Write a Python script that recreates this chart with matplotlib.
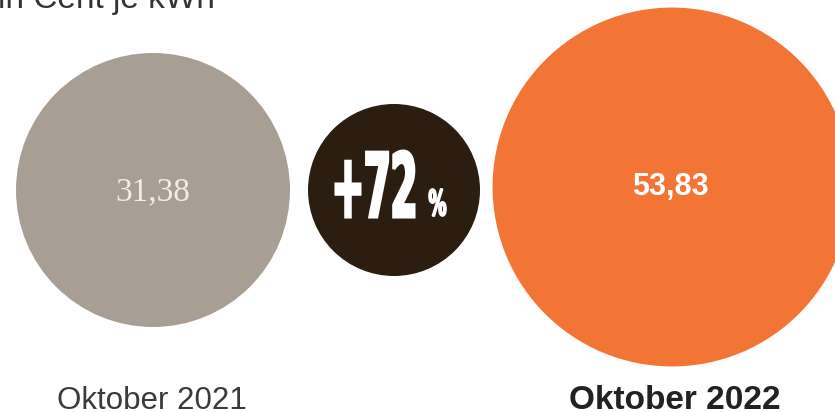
import numpy as np
import matplotlib
matplotlib.use("Agg")
import matplotlib.pyplot as plt
from matplotlib.patches import Circle, PathPatch
from matplotlib.textpath import TextPath
from matplotlib.font_manager import FontProperties
from matplotlib.transforms import Affine2D

# data
months = ["Oktober 2021", "Oktober 2022"]
prices = [31.38, 53.83]
value_labels = ["31,38", "53,83"]
unit = "in Cent je kWh"

colors = ["#a99e94", "#f27535"]
dark = "#2b1d10"

fig = plt.figure(figsize=(8.35, 4.12), dpi=100)
ax = fig.add_axes([0, 0, 1, 1])
ax.set_xlim(0, 835)
ax.set_ylim(412, 0)
ax.set_aspect("equal")
ax.axis("off")

# circle area ~ value
r_scale = 137 / np.sqrt(prices[0])
centers = [(153, 190), (672, 187)]
for i in range(2):
    r = r_scale * np.sqrt(prices[i])
    ax.add_patch(Circle(centers[i], r, color=colors[i], lw=0))

ax.text(153, 192, value_labels[0], ha="center", va="center", color="#f1ece6",
        family="Liberation Serif", fontsize=24)
ax.text(670, 187, value_labels[1], ha="center", va="center", color="white",
        family="Liberation Sans", weight="bold", fontsize=22)

# change circle
change = (prices[1] / prices[0] - 1) * 100
ax.add_patch(Circle((394, 190), 86, color=dark, lw=0))

fp = FontProperties(family="DejaVu Sans", weight="bold")

def squeezed(s, x0, y_base, h, w, lw):
    # heavy condensed look: squeeze a bold glyph path and thicken it a bit
    tp = TextPath((0, 0), s, prop=fp, size=100)
    ext = tp.get_extents()
    sx = w / ext.width
    sy = h / ext.height
    t = Affine2D().translate(-ext.x0, -ext.y0).scale(sx, -sy).translate(x0, y_base)
    ax.add_patch(PathPatch(t.transform_path(tp), facecolor="white",
                           edgecolor="white", lw=lw, joinstyle="miter"))

squeezed("+%d" % round(change), 336, 217, 66, 78, 2.2)
squeezed("%", 429, 216, 27, 17, 1.2)

ax.text(152, 409, months[0], ha="center", va="baseline", color="#3a3a3a",
        family="Liberation Sans", fontsize=22.5)
ax.text(675, 409, months[1], ha="center", va="baseline", color="#222222",
        family="Liberation Sans", weight="bold", fontsize=24)

ax.text(-2, 8, unit, ha="left", va="baseline", color="#333333",
        family="Liberation Sans", fontsize=24)

fig.savefig("out.png", dpi=100, facecolor="white")
